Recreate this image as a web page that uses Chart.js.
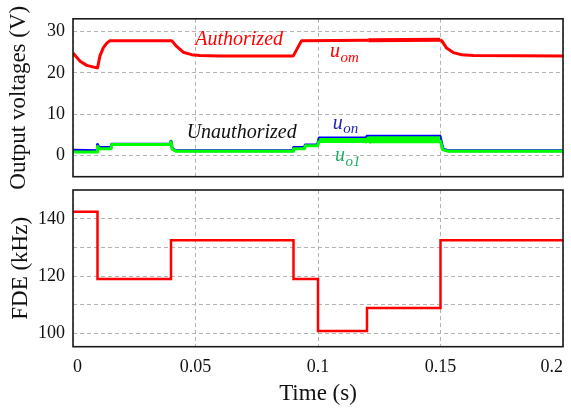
<!DOCTYPE html>
<html>
<head>
<meta charset="utf-8">
<script src="https://cdn.jsdelivr.net/npm/chart.js@4/dist/chart.umd.min.js"></script>
<style>
  html, body { margin: 0; padding: 0; background: #fff; }
  #wrap { position: relative; width: 571px; height: 417px; }
  canvas { position: absolute; left: 0; top: 0; }
</style>
</head>
<body>
<div id="wrap">
  <canvas id="c1" width="571" height="417"></canvas>
  <canvas id="c2" width="571" height="417"></canvas>
</div>
<script>
// ---------- Data ----------
const timeTicks = [0, 0.05, 0.1, 0.15, 0.2];
const voltTicks = [0, 10, 20, 30];
const fdeTicks = [100, 110, 120, 130, 140];
const fdeTickLabels = ['100', '', '120', '', '140'];

// u_om (authorized output voltage, V)
const omTime = [0, 0.0029, 0.0056, 0.0097, 0.010, 0.011, 0.0124, 0.0138, 0.0151, 0.0403, 0.0423, 0.045, 0.0484, 0.0518, 0.06, 0.0899, 0.0933, 0.1205, 0.1498, 0.1505, 0.1525, 0.1552, 0.1587, 0.1634, 0.2];
const omVolt = [24.8, 22.8, 21.8, 21.2, 21.2, 24.1, 26.1, 27.2, 27.8, 27.8, 26.4, 25.0, 24.4, 24.2, 24.1, 24.1, 27.8, 27.9, 28.0, 27.8, 26.0, 24.9, 24.4, 24.2, 24.1];

// u_on (unauthorized, V)
const onTime = [0, 0.0099, 0.010, 0.0105, 0.0155, 0.0158, 0.0398, 0.040, 0.0405, 0.042, 0.0898, 0.090, 0.0945, 0.0948, 0.0998, 0.1005, 0.1198, 0.120, 0.1498, 0.151, 0.153, 0.2];
const onVolt = [1.2, 1.1, 2.6, 1.9, 1.9, 2.7, 2.7, 3.4, 1.6, 1.1, 1.1, 1.9, 1.9, 2.5, 2.5, 4.2, 4.2, 4.6, 4.6, 1.5, 1.1, 1.1];

// u_o1 (V)
const o1Time = [0, 0.0099, 0.010, 0.0105, 0.0155, 0.0158, 0.0398, 0.040, 0.0405, 0.042, 0.0898, 0.090, 0.0945, 0.0948, 0.0998, 0.1005, 0.1198, 0.1203, 0.1208, 0.1498, 0.151, 0.153, 0.2];
const o1Volt = [0.8, 0.8, 2.2, 1.6, 1.6, 2.6, 2.6, 3.3, 1.5, 1.0, 1.0, 1.6, 1.6, 2.3, 2.3, 3.6, 3.6, 3.1, 3.75, 3.75, 1.3, 1.0, 1.0];

// FDE (kHz), stepwise
const fdeTime = [0, 0.01, 0.04, 0.09, 0.10, 0.12, 0.15, 0.2];
const fdeValue = [142.5, 119, 132.5, 119, 100.8, 108.8, 132.5, 132.5];

// text annotations (time, voltage at baseline)
const notes = [
  { text: 'Authorized', sub: '', t: 0.0499, v: 26.8, color: '#ff0000' },
  { text: 'u', sub: 'om', t: 0.1049, v: 23.8, color: '#ff0000' },
  { text: 'Unauthorized', sub: '', t: 0.0464, v: 4.15, color: '#111111' },
  { text: 'u', sub: 'on', t: 0.1060, v: 6.4, color: '#2424b4' },
  { text: 'u', sub: 'o1', t: 0.1069, v: -1.45, color: '#1fae62' }
];

const xy = (xs, ys) => xs.map((x, i) => ({ x: x, y: ys[i] }));

const SERIF = '"Liberation Serif", "Times New Roman", serif';
const gridColor = '#b4b4b4';

const framePlugin = {
  id: 'frame',
  afterDraw(chart) {
    const a = chart.chartArea, ctx = chart.ctx;
    ctx.save();
    ctx.strokeStyle = '#1a1a1a';
    ctx.lineWidth = 1.6;
    ctx.strokeRect(a.left, a.top, a.right - a.left, a.bottom - a.top);
    ctx.restore();
  }
};

const notesPlugin = {
  id: 'notes',
  afterDatasetsDraw(chart) {
    const ctx = chart.ctx, xs = chart.scales.x, ys = chart.scales.y;
    ctx.save();
    ctx.textBaseline = 'alphabetic';
    ctx.textAlign = 'left';
    notes.forEach(n => {
      const px = xs.getPixelForValue(n.t);
      const py = ys.getPixelForValue(n.v);
      ctx.fillStyle = n.color;
      ctx.font = 'italic 20px ' + SERIF;
      ctx.fillText(n.text, px, py);
      if (n.sub) {
        const w = ctx.measureText(n.text).width;
        ctx.font = 'italic 15px ' + SERIF;
        ctx.fillText(n.sub, px + w + 0.5, py + 4.5);
      }
    });
    ctx.restore();
  }
};

const xScaleBase = (showLabels, h) => ({
  type: 'linear',
  min: 0,
  max: 0.2,
  afterBuildTicks: s => { s.ticks = timeTicks.map(v => ({ value: v })); },
  afterFit: s => { s.height = h; s.paddingLeft = 0; s.paddingRight = 0; },
  grid: { color: gridColor, lineWidth: 1, drawTicks: false },
  border: { display: false, dash: [4, 3] },
  ticks: {
    display: showLabels,
    align: 'inner',
    padding: 10,
    color: '#111',
    font: { family: SERIF, size: 18 },
    maxRotation: 0,
    callback: v => String(v)
  }
});

// ---------- Top chart ----------
new Chart(document.getElementById('c1'), {
  type: 'line',
  data: {
    datasets: [
      { label: 'u_o1', data: xy(o1Time, o1Volt), borderColor: '#00ff00', borderWidth: 3,
        segment: { borderWidth: c => {
          const x0 = c.p0.parsed.x;
          if (x0 >= 0.1 && x0 < 0.12) return 5;
          if (x0 >= 0.12 && x0 < 0.1495) return 7;
          return 3;
        } } },
      { label: 'u_on', data: xy(onTime, onVolt), borderColor: '#0000ff', borderWidth: 3 },
      { label: 'u_om', data: xy(omTime, omVolt), borderColor: '#ff0000', borderWidth: 3,
        segment: { borderWidth: c => (c.p0.parsed.x >= 0.12 && c.p0.parsed.x < 0.1495) ? 4 : 3 } }
    ]
  },
  options: {
    responsive: false,
    animation: false,
    events: [],
    parsing: false,
    elements: { point: { radius: 0 }, line: { tension: 0, borderJoinStyle: 'round' } },
    layout: { padding: { left: 0, right: 8, top: 17, bottom: 240.3 } },
    plugins: { legend: { display: false }, tooltip: { enabled: false } },
    scales: {
      x: xScaleBase(false, 0),
      y: {
        type: 'linear',
        min: -5.2,
        max: 33.1,
        afterBuildTicks: s => { s.ticks = voltTicks.map(v => ({ value: v })); },
        afterFit: s => { s.width = 73; },
        grid: { color: gridColor, lineWidth: 1, drawTicks: false },
        border: { display: false, dash: [4, 3] },
        ticks: { padding: 8, color: '#111', font: { family: SERIF, size: 18 } },
        title: { display: true, text: 'Output voltages (V)', color: '#111',
          font: { family: SERIF, size: 23, lineHeight: 1.2 }, padding: { top: 5, bottom: 0 } }
      }
    }
  },
  plugins: [framePlugin, notesPlugin]
});

// ---------- Bottom chart ----------
new Chart(document.getElementById('c2'), {
  type: 'line',
  data: {
    datasets: [
      { label: 'FDE', data: xy(fdeTime, fdeValue), borderColor: '#ff0000', borderWidth: 2.5, stepped: true }
    ]
  },
  options: {
    responsive: false,
    animation: false,
    events: [],
    parsing: false,
    elements: { point: { radius: 0 } },
    layout: { padding: { left: 0, right: 8, top: 190, bottom: 9.2 } },
    plugins: { legend: { display: false }, tooltip: { enabled: false } },
    scales: {
      x: Object.assign(xScaleBase(true, 61.1), {
        title: { display: true, text: 'Time (s)', color: '#111',
          font: { family: SERIF, size: 23, lineHeight: 1.2 }, padding: { top: 0, bottom: 0 } }
      }),
      y: {
        type: 'linear',
        min: 95.3,
        max: 150.1,
        afterBuildTicks: s => { s.ticks = fdeTicks.map(v => ({ value: v })); },
        afterFit: s => { s.width = 73; },
        grid: { color: gridColor, lineWidth: 1, drawTicks: false },
        border: { display: false, dash: [4, 3] },
        ticks: { padding: 8, color: '#111', font: { family: SERIF, size: 18 },
          callback: (v, i) => fdeTickLabels[fdeTicks.indexOf(v)] },
        title: { display: true, text: 'FDE (kHz)', color: '#111',
          font: { family: SERIF, size: 23, lineHeight: 1.2 }, padding: { top: 7, bottom: 0 } }
      }
    }
  },
  plugins: [framePlugin]
});
</script>
</body>
</html>
